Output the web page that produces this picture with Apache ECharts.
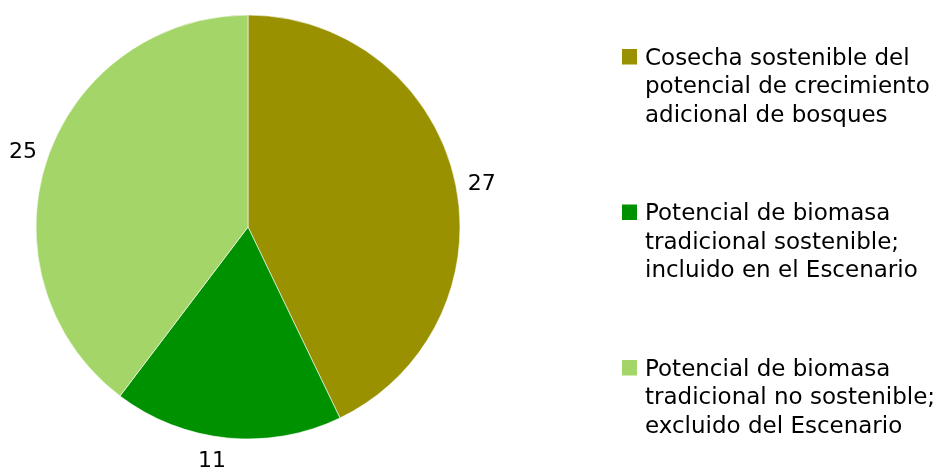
<!DOCTYPE html>
<html><head><meta charset="utf-8">
<script src="https://cdn.jsdelivr.net/npm/echarts@6/dist/echarts.min.js"></script>
<style>html,body{margin:0;padding:0;background:#fff}#c{width:946px;height:472px}</style>
</head><body><div id="c"></div>
<script>
const categories = [
  "Cosecha sostenible del\npotencial de crecimiento\nadicional de bosques",
  "Potencial de biomasa\ntradicional sostenible;\nincluido en el Escenario",
  "Potencial de biomasa\ntradicional no sostenible;\nexcluido del Escenario"
];
const values = [27, 11, 25];
const colors = ["#999100", "#009100", "#a3d568"];
// label nudges (style, not data)
const labelShift = [[8, 4], [4, 23], [-5, -7]];

const FONT = '"DejaVu Sans", Verdana, sans-serif';
const chart = echarts.init(document.getElementById('c'), null, {renderer: 'canvas'});

const legendX = 622, legendY = 49, legendStep = 155.5;
const legendGraphics = [];
categories.forEach((name, i) => {
  legendGraphics.push({
    type: 'rect', silent: true,
    shape: {x: legendX, y: legendY + i * legendStep, width: 15, height: 15.5},
    style: {fill: colors[i]}
  });
  legendGraphics.push({
    type: 'text', silent: true,
    x: legendX + 23, y: legendY + i * legendStep - 4.5,
    style: {text: name, fill: '#000', fontFamily: FONT, fontSize: 23, lineHeight: 28.5, verticalAlign: 'top', align: 'left'}
  });
});

chart.setOption({
  animation: false,
  graphic: legendGraphics,
  series: [{
    type: 'pie',
    center: [248, 227],
    radius: 212,
    startAngle: 90,
    clockwise: true,
    avoidLabelOverlap: false,
    itemStyle: {borderColor: '#fff', borderWidth: 0.6},
    label: {show: true, position: 'outside', formatter: '{c}', fontFamily: FONT, fontSize: 22, color: '#000', overflow: 'none'},
    labelLine: {show: false, length: 0, length2: 0},
    labelLayout: function (p) { const s = labelShift[p.dataIndex]; return {dx: s[0], dy: s[1]}; },
    emphasis: {disabled: true},
    data: categories.map((n, i) => ({name: n, value: values[i], itemStyle: {color: colors[i]}}))
  }]
});
</script></body></html>
